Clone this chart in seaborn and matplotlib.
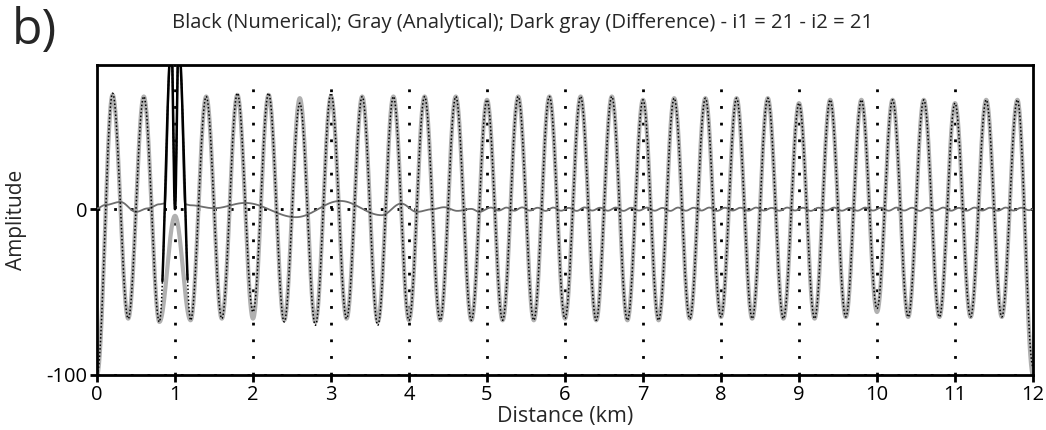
import numpy as np
import pandas as pd
import matplotlib
matplotlib.use("Agg")
import matplotlib.pyplot as plt
import seaborn as sns

# ---------------------------------------------------------------------------
# Data (amplitudes at the wave extrema, one every half period of 0.4 km)
# ---------------------------------------------------------------------------
ext_x = [round(0.2 * k, 1) for k in range(61)]

analytical_ext = [
    -100, 69, -66, 68, -68, -4, -67, 68, -66, 69,     # 0.0 - 1.8
    -66, 69, -67, 67, -68, 68, -66, 68, -68, 68,      # 2.0 - 3.8
    -67, 68, -67, 68, -67, 66, -67, 68, -67, 68,      # 4.0 - 5.8
    -66, 68, -67, 68, -67, 66, -67, 67, -66, 67,      # 6.0 - 7.8
    -65, 67, -66, 67, -66, 64, -66, 66, -65, 66,      # 8.0 - 9.8
    -62, 66, -65, 66, -65, 64, -65, 66, -65, 66,      # 10.0 - 11.8
    -100,                                             # 12.0
]

numerical_ext = [
    -100, 70, -66, 68, -68, 0, -67, 68, -66, 70,
    -62, 70, -68, 64, -70, 70, -66, 68, -70, 68,
    -67, 68, -67, 68, -67, 66, -67, 68, -67, 68,
    -66, 68, -67, 68, -67, 66, -67, 67, -66, 67,
    -65, 67, -66, 67, -66, 64, -66, 66, -65, 66,
    -60, 66, -65, 66, -65, 64, -65, 66, -65, 66,
    -95,
]

# twin spikes of the numerical solution beside the source at 1 km
spike_x = [0.955, 1.045]
spike_y = [100, 100]

# difference trace: knot positions (km) and values
diff_x = [0.0, 0.1, 0.3, 0.5, 0.65, 0.8, 0.87, 0.95, 1.0, 1.05, 1.13, 1.2,
          1.5, 1.9, 2.55, 3.12, 3.65, 3.9, 4.1, 4.3, 4.45, 4.62, 4.8, 4.9,
          5.05] + [round(5.15 + 0.1 * k, 2) for k in range(69)] + [12.0]
diff_y = [0.5, 2.5, 4.4, -1.6, 0.5, 3.0, 3.5, 120, 3.0, 120, 3.0, 2.4,
          0.6, 3.8, -4.8, 5.0, -3.6, 3.4, -1.6, 0.0, 1.2, -1.0, 0.2, -1.6,
          1.0] + [
    -0.8, 1.0, -0.9, 1.1, -0.8, 0.9, -1.0, 1.0, -0.9, 0.8,
    -1.0, 1.1, -0.8, 0.9, -0.9, 1.0, -1.0, 0.9, -0.8, 1.0,
    -0.9, 0.8, -1.0, 1.0, -0.9, 0.9, -0.8, 1.0, -1.0, 0.9,
    -0.8, 0.9, -0.9, 1.0, -0.8, 0.8, -0.9, 1.0, -0.8, 0.9,
    -1.0, 0.9, -0.8, 1.0, -0.9, 0.8, -0.9, 1.0, -0.8, 0.9,
    -0.9, 1.0, -0.8, 0.9, -1.0, 0.9, -0.8, 1.0, -0.9, 0.8,
    -0.9, 1.0, -0.8, 0.9, -0.9, 1.0, -0.8, 0.9, -0.6,
] + [0.0]

x_ticks = list(range(13))
y_ticks = [-100, 0]
source_window = (0.835, 1.165)
title = "Black (Numerical); Gray (Analytical); Dark gray (Difference) - i1 = 21 - i2 = 21"


def smooth_trace(xk, yk, n=40):
    """Join consecutive knots with half-cosine arcs (extremum to extremum)."""
    xs, ys = [], []
    for (x0, x1), (y0, y1) in zip(zip(xk[:-1], xk[1:]), zip(yk[:-1], yk[1:])):
        t = np.linspace(0.0, 1.0, n, endpoint=False)
        w = (1.0 - np.cos(np.pi * t)) / 2.0
        xs.append(x0 + (x1 - x0) * t)
        ys.append(y0 + (y1 - y0) * w)
    xs.append([xk[-1]])
    ys.append([yk[-1]])
    return pd.DataFrame({"x": np.concatenate(xs), "y": np.concatenate(ys)})


num_x = ext_x[:5] + [spike_x[0], ext_x[5], spike_x[1]] + ext_x[6:]
num_y = numerical_ext[:5] + [spike_y[0], numerical_ext[5], spike_y[1]] + numerical_ext[6:]

ana_df = smooth_trace(ext_x, analytical_ext)
num_df = smooth_trace(num_x, num_y)
diff_df = smooth_trace(diff_x, diff_y, n=20)
near_source = num_df[(num_df.x >= source_window[0]) & (num_df.x <= source_window[1])]

# ---------------------------------------------------------------------------
# Figure
# ---------------------------------------------------------------------------
sns.set_theme(style="white")
plt.rcParams["font.family"] = ["Open Sans", "DejaVu Sans"]

fig = plt.figure(figsize=(10.46, 4.30), dpi=100)
ax = fig.add_axes([97 / 1046, 55 / 430, 936 / 1046, 310 / 430])

ylo, yhi = -100, 87
dot = dict(color="black", lw=2.0, linestyle=(0, (1, 5.0)), zorder=1)
ax.vlines(x_ticks[1:-1], ylo, 80, **dot)
ax.axhline(0, **dot)
ax.axhline(ylo, **dot)

sns.lineplot(data=ana_df, x="x", y="y", ax=ax, color="#b0b0b0", lw=3.0,
             estimator=None, sort=False, zorder=2)
sns.lineplot(data=diff_df, x="x", y="y", ax=ax, color="#6e6e6e", lw=1.3,
             estimator=None, sort=False, zorder=3)
sns.lineplot(data=num_df, x="x", y="y", ax=ax, color="black", lw=1.1,
             linestyle=(0, (1, 1.4)), estimator=None, sort=False, zorder=4)
# the steep source spikes render as solid strokes
sns.lineplot(data=near_source, x="x", y="y", ax=ax, color="black", lw=1.8,
             estimator=None, sort=False, zorder=5)

ax.set_xlim(0, 12)
ax.set_ylim(ylo, yhi)
ax.set_xticks(x_ticks)
ax.set_yticks(y_ticks)
ax.set_xticklabels([str(v) for v in x_ticks])
ax.set_yticklabels([str(v) for v in y_ticks])
ax.tick_params(axis="both", direction="out", length=5, width=2,
               labelsize=14.5, pad=2, colors="black", bottom=True, left=True)
for s in ax.spines.values():
    s.set_visible(True)
    s.set_color("black")
    s.set_linewidth(2.0)

ax.set_xlabel("Distance (km)", fontsize=15.5, labelpad=1)
ax.set_ylabel("Amplitude", fontsize=15, labelpad=14)

fig.text(0.5, 1 - 23 / 430, title, ha="center", va="center", fontsize=14.6)
fig.text(12 / 1046, 1 - 31 / 430, "b)", ha="left", va="center", fontsize=36)

fig.savefig("out.png", dpi=100, facecolor="white")
